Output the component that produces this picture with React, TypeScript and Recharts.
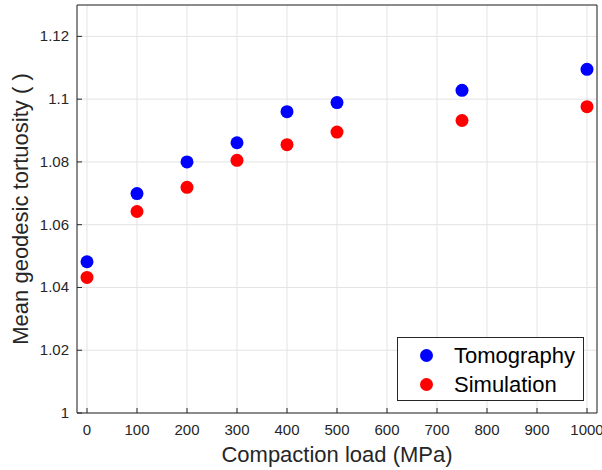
import React from 'react';
import { ScatterChart, Scatter, XAxis, YAxis, CartesianGrid, Legend } from 'recharts';

const loads = [0, 100, 200, 300, 400, 500, 750, 1000];
const tomography = [1.0482, 1.0699, 1.0800, 1.0861, 1.0960, 1.0989, 1.1028, 1.1095];
const simulation = [1.0432, 1.0642, 1.0719, 1.0805, 1.0855, 1.0895, 1.0932, 1.0976];
const xTicks = [0, 100, 200, 300, 400, 500, 600, 700, 800, 900, 1000];
const yTicks = [1, 1.02, 1.04, 1.06, 1.08, 1.1, 1.12];
const seriesNames = ['Tomography', 'Simulation'];
const seriesColors = ['#0000ff', '#ff0000'];

const tomoData = loads.map((x, i) => ({ x, y: tomography[i] }));
const simData = loads.map((x, i) => ({ x, y: simulation[i] }));

const AX = '#262626';
const FONT = 'Liberation Sans, Arial, sans-serif';
const TM = 6;

const BottomTick = (props: any) => {
  const { x, y, payload } = props;
  const y0 = y - TM;
  return (
    <g>
      <line x1={x} x2={x} y1={y0} y2={y0 - 5} stroke={AX} strokeWidth={1} />
      <text x={x} y={y0 + 22} textAnchor="middle" fill={AX} fontSize={15} fontFamily={FONT}>
        {payload.value}
      </text>
    </g>
  );
};

const LeftTick = (props: any) => {
  const { x, y, payload } = props;
  const x0 = x + TM;
  return (
    <g>
      <line x1={x0} x2={x0 + 5} y1={y} y2={y} stroke={AX} strokeWidth={1} />
      <text x={x0 - 8} y={y + 5} textAnchor="end" fill={AX} fontSize={15} fontFamily={FONT}>
        {String(Math.round(payload.value * 100) / 100)}
      </text>
    </g>
  );
};

const Dot = (props: any) => {
  const { cx, cy, fill } = props;
  return <circle cx={cx} cy={cy} r={6.5} fill={fill} />;
};

const LegendBox = () => (
  <div
    style={{
      width: 187,
      height: 64,
      border: '1px solid #262626',
      background: '#fff',
      boxSizing: 'border-box',
      fontFamily: FONT,
      fontSize: 22,
      color: '#000',
      paddingTop: 3,
    }}
  >
    {seriesNames.map((n, i) => (
      <div key={n} style={{ display: 'flex', alignItems: 'center', height: 29 }}>
        <span
          style={{
            display: 'inline-block',
            width: 13,
            height: 13,
            borderRadius: '50%',
            background: seriesColors[i],
            marginLeft: 22,
            marginRight: 21,
          }}
        />
        <span>{n}</span>
      </div>
    ))}
  </div>
);

export default function App() {
  return (
    <div style={{ position: 'absolute', left: 0, top: 0, background: '#fff' }}>
      <ScatterChart width={602} height={470} margin={{ top: 5, right: 5, left: 0, bottom: 0 }}>
        <CartesianGrid stroke="#e3e3e3" strokeWidth={1} />
        <XAxis
          xAxisId={0}
          dataKey="x"
          type="number"
          domain={[-20, 1020]}
          ticks={xTicks}
          interval={0}
          height={57}
          tickLine={false}
          tickSize={0}
          tickMargin={TM}
          axisLine={{ stroke: AX }}
          tick={<BottomTick />}
          label={{
            value: 'Compaction load (MPa)',
            position: 'insideBottom',
            offset: 8,
            fill: AX,
            fontSize: 22,
            fontFamily: FONT,
          }}
        />
        <XAxis
          xAxisId="top"
          orientation="top"
          type="number"
          domain={[-20, 1020]}
          ticks={xTicks}
          interval={0}
          mirror
          tick={false}
          tickSize={5}
          tickLine={{ stroke: AX }}
          axisLine={{ stroke: AX }}
        />
        <YAxis
          yAxisId={0}
          dataKey="y"
          type="number"
          domain={[1, 1.13]}
          ticks={yTicks}
          interval={0}
          width={77}
          tickLine={false}
          tickSize={0}
          tickMargin={TM}
          axisLine={{ stroke: AX }}
          tick={<LeftTick />}
          label={{
            value: 'Mean geodesic tortuosity ( )',
            angle: -90,
            position: 'insideLeft',
            offset: 0,
            content: (p: any) => {
              const vb = p.viewBox;
              const cx = 28;
              const cy = vb.y + vb.height / 2;
              return (
                <text
                  x={cx}
                  y={cy}
                  transform={`rotate(-90 ${cx} ${cy})`}
                  textAnchor="middle"
                  fill={AX}
                  fontSize={22}
                  fontFamily={FONT}
                >
                  Mean geodesic tortuosity ( )
                </text>
              );
            },
          }}
        />
        <YAxis
          yAxisId="right"
          orientation="right"
          type="number"
          domain={[1, 1.13]}
          ticks={yTicks}
          interval={0}
          mirror
          tick={false}
          tickSize={5}
          tickLine={{ stroke: AX }}
          axisLine={{ stroke: AX }}
        />
        <Scatter
          name={seriesNames[0]}
          data={tomoData}
          fill={seriesColors[0]}
          shape={<Dot />}
          isAnimationActive={false}
        />
        <Scatter
          name={seriesNames[1]}
          data={simData}
          fill={seriesColors[1]}
          shape={<Dot />}
          isAnimationActive={false}
        />
        <Legend
          content={<LegendBox />}
          layout="vertical"
          align="center"
          verticalAlign="middle"
          wrapperStyle={{ position: 'absolute', left: 397, top: 337, width: 187, height: 64 }}
        />
      </ScatterChart>
    </div>
  );
}
